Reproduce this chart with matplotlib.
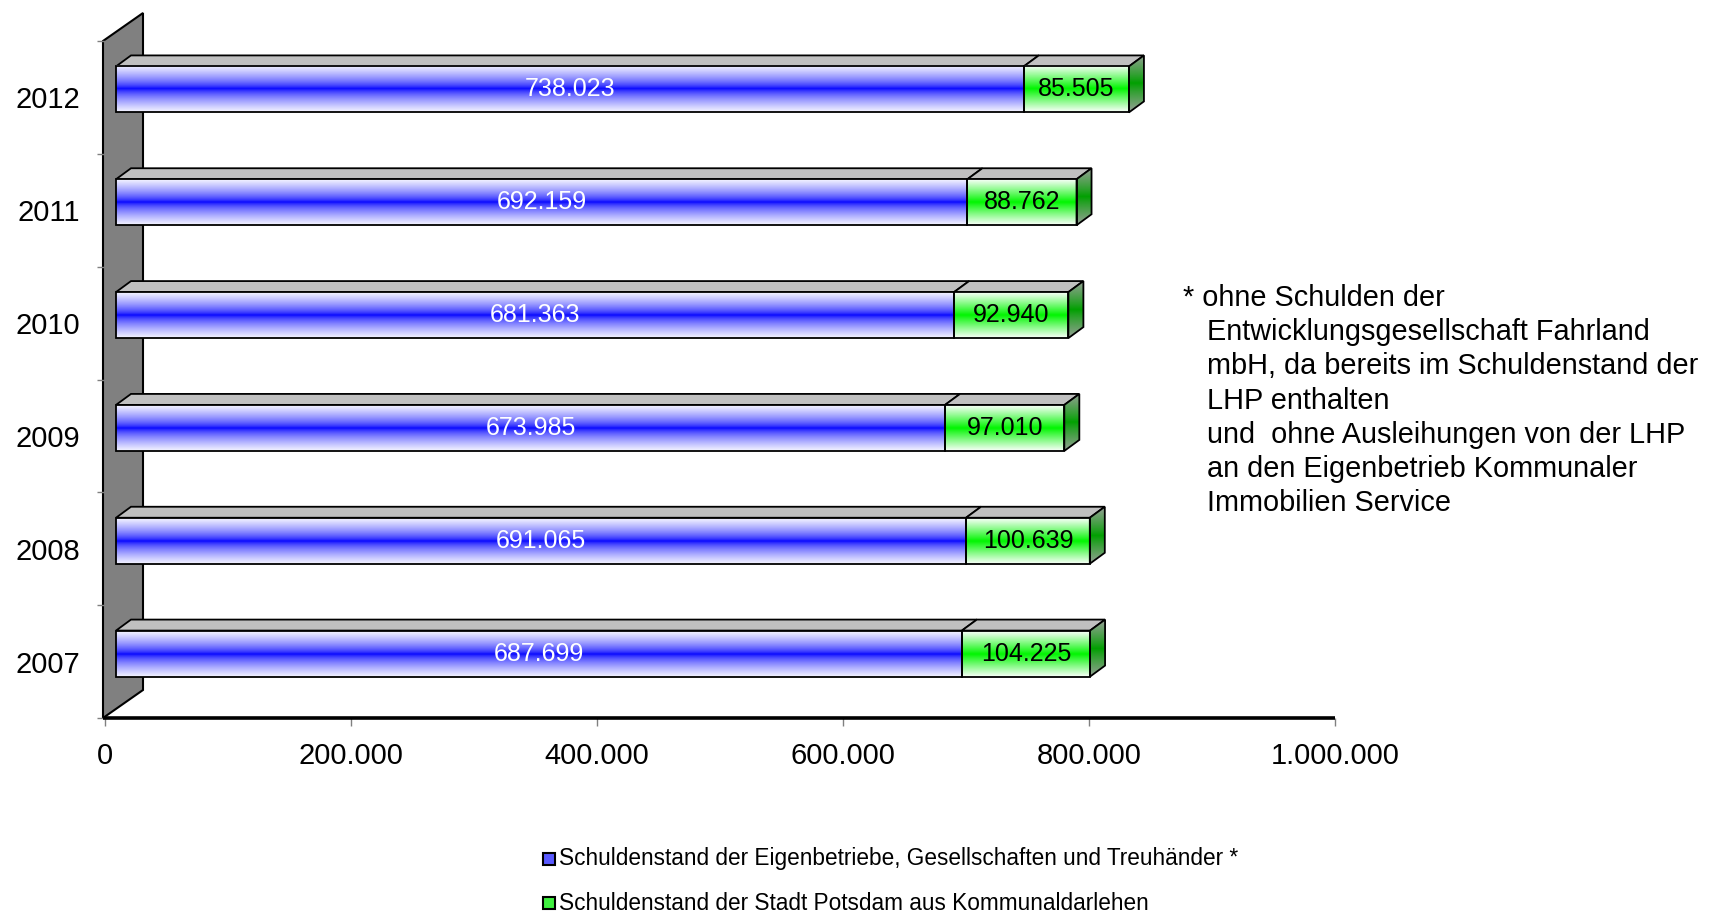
import numpy as np
import matplotlib
matplotlib.use('Agg')
import matplotlib.pyplot as plt
from matplotlib.patches import Polygon, Rectangle
from matplotlib.ticker import FuncFormatter

# ---------------- data ----------------
years = ['2007', '2008', '2009', '2010', '2011', '2012']
eigen = [687699, 691065, 673985, 681363, 692159, 738023]
stadt = [104225, 100639, 97010, 92940, 88762, 85505]
xticks = [0, 200000, 400000, 600000, 800000, 1000000]
legend_labels = ['Schuldenstand der Eigenbetriebe, Gesellschaften und Treuhänder *',
                 'Schuldenstand der Stadt Potsdam aus Kommunaldarlehen']
note_lines = ['* ohne Schulden der',
              'Entwicklungsgesellschaft Fahrland',
              'mbH, da bereits im Schuldenstand der',
              'LHP enthalten',
              'und  ohne Ausleihungen von der LHP',
              'an den Eigenbetrieb Kommunaler',
              'Immobilien Service']

plt.rcParams['font.family'] = ['Liberation Sans', 'DejaVu Sans']


def de(v):
    return f"{int(v):,}".replace(',', '.')


W, H = 1713, 914
fig = plt.figure(figsize=(W / 100, H / 100), dpi=100)
L, R, T, B = 105, 1335, 41, 718
ax = fig.add_axes([L / W, 1 - B / H, (R - L) / W, (B - T) / H])
XMAX = 1_000_000
n = len(years)
ax.set_xlim(0, XMAX)
ax.set_ylim(0, n)
ux = XMAX / (R - L)
uy = n / (B - T)


def P(x, y, dxp=0.0, dyp=0.0):
    return (x + dxp * ux, y + dyp * uy)


def gradient(center, edge, p, N=120):
    t = np.linspace(-1, 1, N)
    w = np.abs(t) ** p
    c = np.array(center) / 255.0
    e = np.array(edge) / 255.0
    img = (1 - w)[:, None] * c[None, :] + w[:, None] * e[None, :]
    return img[:, None, :]


blue_img = gradient((0, 0, 255), (245, 245, 255), 0.65)
green_img = gradient((0, 245, 0), (250, 255, 250), 0.95)
side_img = gradient((0, 160, 0), (150, 160, 150), 0.9)

# ---------------- back wall ----------------
wall = Polygon([P(0, 0, -2, 0), P(0, n, -2, 0), P(0, n, 38, 28), P(0, 0, 38, 28)],
               closed=True, fc='#808080', ec='black', lw=1.5, zorder=1, clip_on=False)
ax.add_patch(wall)

# ---------------- bars ----------------
fdx, fdy, hpx = 11, 8, 46
ddx, ddy = 15, 11
lw = 1.3
for i, (yr, a, b) in enumerate(zip(years, eigen, stadt)):
    yc = i + 0.5
    yb = yc + (fdy - hpx / 2) * uy
    yt = yc + (fdy + hpx / 2) * uy
    x0 = fdx * ux
    xm = a + fdx * ux
    x1 = a + b + fdx * ux
    dx = ddx * ux
    dy = ddy * uy
    z = 2 + i * 0.01
    # top faces
    for xa, xb in ((x0, xm), (xm, x1)):
        ax.add_patch(Polygon([(xa, yt), (xb, yt), (xb + dx, yt + dy), (xa + dx, yt + dy)],
                             closed=True, fc='#C0C0C0', ec='black', lw=lw, zorder=z, clip_on=False))
    # right side face
    side = Polygon([(x1, yb), (x1, yt), (x1 + dx, yt + dy), (x1 + dx, yb + dy)],
                   closed=True, fc='none', ec='black', lw=lw, zorder=z + 0.002, clip_on=False)
    ax.add_patch(side)
    im = ax.imshow(side_img, extent=[x1, x1 + dx, yb, yt + dy], aspect='auto', origin='lower',
                   interpolation='bilinear', zorder=z + 0.001)
    im.set_clip_path(side)
    # front faces
    ax.imshow(blue_img, extent=[x0, xm, yb, yt], aspect='auto', origin='lower',
              interpolation='bilinear', zorder=z + 0.001, clip_on=False)
    ax.imshow(green_img, extent=[xm, x1, yb, yt], aspect='auto', origin='lower',
              interpolation='bilinear', zorder=z + 0.001, clip_on=False)
    ax.add_patch(Rectangle((x0, yb), xm - x0, yt - yb, fill=False, ec='black', lw=lw,
                           zorder=z + 0.002, clip_on=False))
    ax.add_patch(Rectangle((xm, yb), x1 - xm, yt - yb, fill=False, ec='black', lw=lw,
                           zorder=z + 0.002, clip_on=False))
    ax.text((x0 + xm) / 2, (yb + yt) / 2, de(a), color='white', fontsize=18,
            ha='center', va='center', zorder=z + 0.003)
    ax.text((xm + x1) / 2, (yb + yt) / 2, de(b), color='black', fontsize=18,
            ha='center', va='center', zorder=z + 0.003)

# ---------------- axes ----------------
ax.set_xlim(0, XMAX)
ax.set_ylim(0, n)
for s in ax.spines.values():
    s.set_visible(False)
ax.plot([P(0, 0, -2, 0)[0], XMAX], [0, 0], color='black', lw=2.6, zorder=5,
        clip_on=False, solid_capstyle='butt')
ax.set_xticks(xticks)
ax.xaxis.set_major_formatter(FuncFormatter(lambda v, p: de(v)))
ax.tick_params(axis='x', which='major', length=6, width=1, color='#808080',
               labelsize=21, pad=11)
ax.set_yticks(np.arange(n + 1))
ax.set_yticks(np.arange(n) + 0.5, minor=True)
ax.set_yticklabels([])
ax.set_yticklabels(years, minor=True)
ax.tick_params(axis='y', which='major', length=6, width=1, color='#808080', labelleft=False)
ax.tick_params(axis='y', which='minor', length=0, labelsize=21, pad=18)
ax.set_facecolor('none')

# ---------------- footnote ----------------
note_y = [298, 332, 366, 401, 435, 469, 503]
for j, (line, yy) in enumerate(zip(note_lines, note_y)):
    xx = 1183 if j == 0 else 1207
    fig.text(xx / W, 1 - yy / H, line, fontsize=20.8, ha='left', va='center')

# ---------------- legend ----------------
leg_colors = ['#5a5aff', '#40f040']
leg_y = [859, 903]
for lab, col, yy in zip(legend_labels, leg_colors, leg_y):
    fig.patches.append(Rectangle((543 / W, 1 - (yy + 6) / H), 12 / W, 12 / H,
                                 transform=fig.transFigure, fc=col, ec='black', lw=1.5))
    fig.text(559 / W, 1 - yy / H, lab, fontsize=16.3, ha='left', va='center')

fig.savefig('out.png', dpi=100)
